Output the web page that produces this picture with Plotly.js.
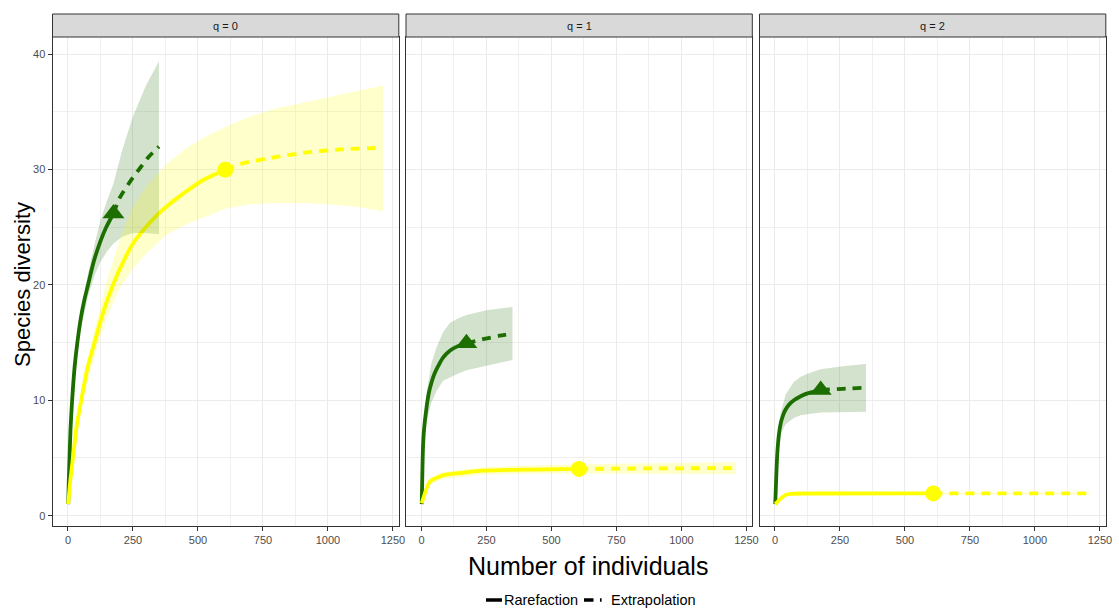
<!DOCTYPE html>
<html><head><meta charset="utf-8">
<script src="https://cdn.plot.ly/plotly-3.0.1.min.js"></script>
<style>html,body{margin:0;padding:0;background:#fff}#chart{width:1119px;height:610px}</style>
</head><body><div id="chart"></div>
<script>
// ---- labels ----
const facetLabels = ['q = 0', 'q = 1', 'q = 2'];
const xTickVals = [0, 250, 500, 750, 1000, 1250];
const yTickVals = [0, 10, 20, 30, 40];
const legendLabels = ['Rarefaction', 'Extrapolation'];
const xTitle = 'Number of individuals';
const yTitle = 'Species diversity';

// ---- green site, q = 0 ----
const gRareX0 = [1, 3, 6, 10, 16, 26, 36, 50, 62, 77, 100, 125, 147, 175];
const gRareY0 = [1, 2.9, 5, 7.6, 10, 13.0, 15, 17.2, 18.6, 20, 22.1, 23.8, 25, 26.2];
const gExtX0 = [175, 200, 240, 276, 310, 350];
const gExtY0 = [26.2, 27.6, 29.0, 30.1, 31.1, 32.0];
const gCiX0 = [1, 20, 45, 77, 105, 125, 150, 175, 210, 250, 300, 350];
const gCiLo0 = [1, 10.7, 15.7, 19.0, 21.0, 22.0, 22.9, 23.6, 24.2, 24.5, 24.5, 24.4];
const gCiHi0 = [1, 11.6, 16.9, 21.0, 23.8, 25.6, 27.3, 28.8, 31.8, 34.6, 37.3, 39.4];
const gObs0 = [175, 26.2];

// ---- yellow site, q = 0 ----
const yRareX0 = [1, 8, 19, 33, 51, 75, 102, 135, 173, 210, 250, 295, 340, 390, 442, 520, 605];
const yRareY0 = [1, 2.8, 5, 7.7, 10, 12.8, 15, 17.6, 20, 21.9, 23.6, 24.9, 26.0, 27.0, 27.9, 29.1, 30];
const yExtX0 = [605, 673, 802, 918, 1046, 1212];
const yExtY0 = [30, 30.55, 31.1, 31.5, 31.75, 31.9];
const yCiX0 = [1, 50, 100, 150, 200, 250, 300, 375, 450, 525, 605, 700, 800, 900, 1000, 1100, 1212];
const yCiLo0 = [1, 9.2, 13.7, 17.2, 19.8, 21.4, 22.7, 24.3, 25.2, 25.9, 26.6, 27.0, 27.1, 27.1, 27.0, 26.8, 26.4];
const yCiHi0 = [1, 10.6, 16.0, 20.4, 24.0, 26.8, 28.5, 30.4, 31.8, 32.8, 33.7, 34.6, 35.3, 35.8, 36.3, 36.8, 37.3];
const yObs0 = [605, 30];

// ---- green site, q = 1 ----
const gRareX1 = [1, 3, 6, 10, 19, 28, 38, 50, 65, 83, 109, 140, 173];
const gRareY1 = [1, 3.2, 6.0, 7.5, 9.3, 10.6, 11.5, 12.3, 13.0, 13.7, 14.3, 14.7, 14.95];
const gExtX1 = [173, 237, 300, 350];
const gExtY1 = [14.95, 15.3, 15.6, 15.8];
const gCiX1 = [1, 6, 19, 38, 58, 83, 109, 140, 173, 250, 350];
const gCiLo1 = [1, 5.6, 8.1, 9.8, 10.8, 11.7, 12.0, 12.3, 12.6, 13.0, 13.5];
const gCiHi1 = [1, 6.4, 10.5, 13.2, 14.6, 15.9, 16.7, 17.1, 17.4, 17.8, 18.1];
const gObs1 = [173, 14.95];

// ---- yellow site, q = 1 ----
const yRareX1 = [1, 32, 50, 83, 150, 237, 430, 606];
const yRareY1 = [1.07, 2.95, 3.2, 3.5, 3.7, 3.9, 4.0, 4.05];
const yExtX1 = [606, 900, 1210];
const yExtY1 = [4.05, 4.1, 4.12];
const yCiX1 = [1, 32, 83, 237, 430, 606, 900, 1210];
const yCiLo1 = [1, 2.65, 3.2, 3.55, 3.65, 3.65, 3.65, 3.6];
const yCiHi1 = [1, 3.25, 3.8, 4.2, 4.35, 4.45, 4.55, 4.63];
const yObs1 = [606, 4.05];

// ---- green site, q = 2 ----
const gRareX2 = [1, 5, 9, 15, 22, 31, 41, 55, 73, 99, 125, 150, 176];
const gRareY2 = [1, 3.4, 5.4, 7.0, 8.0, 8.7, 9.2, 9.65, 10.0, 10.35, 10.6, 10.75, 10.9];
const gExtX2 = [176, 260, 350];
const gExtY2 = [10.9, 11.0, 11.1];
const gCiX2 = [1, 9, 22, 41, 73, 99, 125, 176, 260, 350];
const gCiLo2 = [1, 4.9, 7.1, 7.9, 8.5, 8.7, 8.8, 8.95, 9.0, 9.0];
const gCiHi2 = [1, 5.9, 8.9, 10.5, 11.6, 12.05, 12.3, 12.7, 12.95, 13.15];
const gObs2 = [176, 10.9];

// ---- yellow site, q = 2 ----
const yRareX2 = [1, 41, 66, 150, 609];
const yRareY2 = [1, 1.8, 1.9, 1.92, 1.93];
const yExtX2 = [609, 900, 1210];
const yExtY2 = [1.93, 1.94, 1.94];
const yCiX2 = [1, 41, 66, 150, 609, 900, 1210];
const yCiLo2 = [1, 1.75, 1.85, 1.87, 1.86, 1.84, 1.82];
const yCiHi2 = [1, 1.85, 1.95, 1.97, 2.0, 2.03, 2.06];
const yObs2 = [609, 1.93];

// ---- styling ----
const GREEN = '#1c6e00';
const YELLOW = '#ffff00';
const GREEN_FILL = 'rgba(28,110,0,0.2)';
const YELLOW_FILL = 'rgba(255,255,0,0.2)';
const FONT = 'Liberation Sans, Arial, sans-serif';
const W = 1119, H = 610;
const panelPx = [[52.5, 398.8], [406, 752.3], [759.5, 1105.8]];
const plotTop = 37, plotBottom = 525.7, stripTop = 14;
const xRange = [-59.5, 1272.5];
const yRange = [-0.87, 41.5];

const panels = [
  {g: [gRareX0, gRareY0, gExtX0, gExtY0, gCiX0, gCiLo0, gCiHi0, gObs0],
   y: [yRareX0, yRareY0, yExtX0, yExtY0, yCiX0, yCiLo0, yCiHi0, yObs0]},
  {g: [gRareX1, gRareY1, gExtX1, gExtY1, gCiX1, gCiLo1, gCiHi1, gObs1],
   y: [yRareX1, yRareY1, yExtX1, yExtY1, yCiX1, yCiLo1, yCiHi1, yObs1]},
  {g: [gRareX2, gRareY2, gExtX2, gExtY2, gCiX2, gCiLo2, gCiHi2, gObs2],
   y: [yRareX2, yRareY2, yExtX2, yExtY2, yCiX2, yCiLo2, yCiHi2, yObs2]}
];

const traces = [];
panels.forEach((p, i) => {
  const xa = 'x' + (i ? i + 1 : '');
  const ya = 'y' + (i ? i + 1 : '');
  const sites = [[p.g, GREEN, GREEN_FILL, 'triangle-up', 19], [p.y, YELLOW, YELLOW_FILL, 'circle', 16]];
  sites.forEach(([d, col]) => {
    traces.push({x: d[0], y: d[1], xaxis: xa, yaxis: ya, mode: 'lines', type: 'scatter',
      line: {color: col, width: 3.8, shape: 'spline', smoothing: 0.8}, hoverinfo: 'skip', showlegend: false});
    traces.push({x: d[2], y: d[3], xaxis: xa, yaxis: ya, mode: 'lines', type: 'scatter',
      line: {color: col, width: 3.8, dash: '9px,7px', shape: 'spline', smoothing: 0.6}, hoverinfo: 'skip', showlegend: false});
  });
  sites.forEach(([d, col, fillc, sym, sz]) => {
    traces.push({x: [d[7][0]], y: [d[7][1]], xaxis: xa, yaxis: ya, mode: 'markers', type: 'scatter',
      marker: {color: col, size: sz, symbol: sym, line: {width: 0}}, hoverinfo: 'skip', showlegend: false});
  });
  sites.forEach(([d, col, fillc]) => {
    const bx = d[4].concat(d[4].slice().reverse());
    const by = d[6].concat(d[5].slice().reverse());
    traces.push({x: bx, y: by, xaxis: xa, yaxis: ya, mode: 'lines', type: 'scatter', fill: 'toself',
      fillcolor: fillc, line: {width: 0, color: 'rgba(0,0,0,0)'}, hoverinfo: 'skip', showlegend: false});
  });
});

const layout = {
  width: W, height: H,
  margin: {l: 0, r: 0, t: 0, b: 0},
  paper_bgcolor: '#ffffff', plot_bgcolor: '#ffffff',
  font: {family: FONT, color: '#4d4d4d', size: 11},
  showlegend: false,
  shapes: [], annotations: []
};

panelPx.forEach((px, i) => {
  const s = i ? String(i + 1) : '';
  layout['xaxis' + s] = {
    domain: [px[0] / W, px[1] / W], anchor: 'y' + s, range: xRange,
    tickmode: 'array', tickvals: xTickVals, ticktext: xTickVals.map(String),
    ticks: 'outside', ticklen: 4, tickwidth: 1, tickcolor: '#333333',
    tickfont: {family: FONT, size: 11, color: '#4d4d4d'},
    showgrid: true, gridcolor: '#ebebeb', gridwidth: 1,
    minor: {dtick: 125, tick0: 0, showgrid: true, gridcolor: '#f0f0f0', gridwidth: 1, ticks: ''},
    zeroline: false, showline: true, mirror: true, linecolor: '#333333', linewidth: 1,
    fixedrange: true
  };
  layout['yaxis' + s] = {
    domain: [1 - plotBottom / H, 1 - plotTop / H], anchor: 'x' + s, range: yRange,
    tickmode: 'array', tickvals: yTickVals, ticktext: yTickVals.map(String),
    ticks: i === 0 ? 'outside' : '', ticklen: 4, tickwidth: 1, tickcolor: '#333333',
    showticklabels: i === 0,
    tickfont: {family: FONT, size: 11, color: '#4d4d4d'},
    showgrid: true, gridcolor: '#ebebeb', gridwidth: 1,
    minor: {dtick: 5, tick0: 0, showgrid: true, gridcolor: '#f0f0f0', gridwidth: 1, ticks: ''},
    zeroline: false, showline: true, mirror: true, linecolor: '#333333', linewidth: 1,
    fixedrange: true
  };
  layout.shapes.push({type: 'rect', xref: 'paper', yref: 'paper',
    x0: px[0] / W, x1: px[1] / W, y0: 1 - plotTop / H, y1: 1 - stripTop / H,
    fillcolor: '#d9d9d9', line: {color: '#333333', width: 1}});
  layout.annotations.push({xref: 'paper', yref: 'paper', x: (px[0] + px[1]) / 2 / W,
    y: 1 - (stripTop + plotTop) / 2 / H, text: facetLabels[i], showarrow: false,
    xanchor: 'center', yanchor: 'middle', font: {family: FONT, size: 11, color: '#1a1a1a'}});
});

// axis titles
layout.annotations.push({xref: 'paper', yref: 'paper', x: 588 / W, y: 1 - 566 / H, text: xTitle,
  showarrow: false, xanchor: 'center', yanchor: 'middle', font: {family: FONT, size: 25, color: '#000000'}});
layout.annotations.push({xref: 'paper', yref: 'paper', x: 22 / W, y: 1 - 285 / H, text: yTitle,
  showarrow: false, textangle: -90, xanchor: 'center', yanchor: 'middle', font: {family: FONT, size: 22, color: '#000000'}});

// legend (bottom)
const legY = 1 - 600 / H;
layout.shapes.push({type: 'line', xref: 'paper', yref: 'paper', x0: 486 / W, x1: 502 / W, y0: legY, y1: legY,
  line: {color: '#000000', width: 3.5}});
layout.shapes.push({type: 'line', xref: 'paper', yref: 'paper', x0: 584 / W, x1: 593.5 / W, y0: legY, y1: legY,
  line: {color: '#000000', width: 3.5}});
layout.shapes.push({type: 'line', xref: 'paper', yref: 'paper', x0: 600 / W, x1: 601.6 / W, y0: legY, y1: legY,
  line: {color: '#000000', width: 3.5}});
layout.annotations.push({xref: 'paper', yref: 'paper', x: 502 / W, y: legY, text: legendLabels[0],
  showarrow: false, xanchor: 'left', yanchor: 'middle', font: {family: FONT, size: 14.5, color: '#000000'}});
layout.annotations.push({xref: 'paper', yref: 'paper', x: 609 / W, y: legY, text: legendLabels[1],
  showarrow: false, xanchor: 'left', yanchor: 'middle', font: {family: FONT, size: 14.5, color: '#000000'}});

Plotly.newPlot('chart', traces, layout, {staticPlot: true, displayModeBar: false});
</script>
</body></html>
